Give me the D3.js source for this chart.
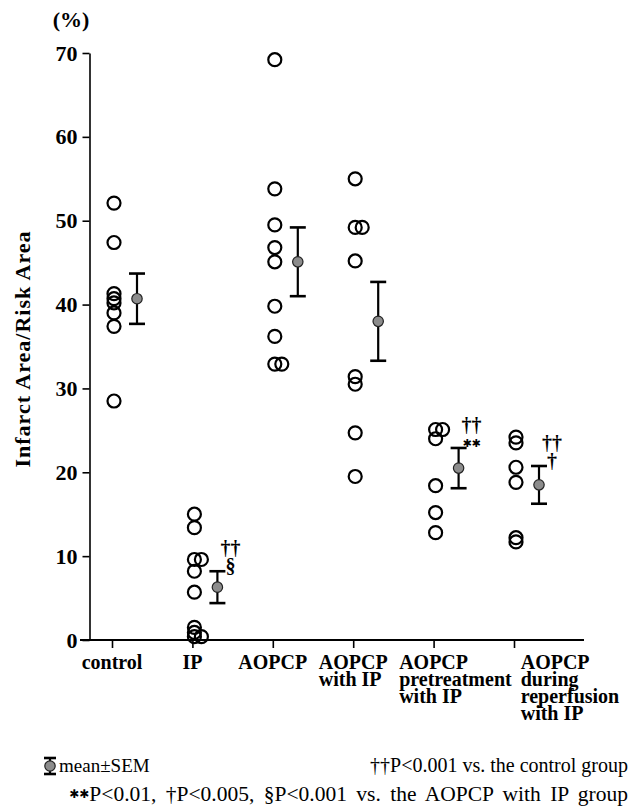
<!DOCTYPE html>
<html>
<head>
<meta charset="utf-8">
<script src="https://cdn.jsdelivr.net/npm/d3@7"></script>
<style>
  body { margin: 0; background: #fff; }
  svg { display: block; font-family: "Liberation Serif", "Times New Roman", serif; }
</style>
</head>
<body>
<div id="chart"></div>
<script>
// groups on the x axis, label lines as printed
const categories = ['control', 'IP', 'AOPCP', 'AOPCP with IP', 'AOPCP pretreatment with IP', 'AOPCP during reperfusion with IP'];
const categoryLines = [
    ['control'],
    ['IP'],
    ['AOPCP'],
    ['AOPCP', 'with IP'],
    ['AOPCP', 'pretreatment', 'with IP'],
    ['AOPCP', 'during', 'reperfusion', 'with IP']
];

// individual animals (%)
const controlPts = [52.1, 47.4, 41.3, 40.7, 40.2, 39.0, 37.4, 28.5];
const ipPts = [15.0, 13.4, 9.6, 9.6, 8.2, 5.7, 1.5, 0.9, 0.4, 0.4];
const aopcpPts = [69.2, 53.8, 49.5, 46.8, 45.1, 39.8, 36.2, 32.9, 32.9];
const aopcpIpPts = [55.0, 49.2, 49.2, 45.2, 31.4, 30.5, 24.7, 19.5];
const pretreatPts = [25.1, 25.1, 24.0, 18.4, 15.2, 12.8];
const reperfPts = [24.2, 23.5, 20.6, 18.8, 12.2, 11.7];
const groupPoints = [controlPts, ipPts, aopcpPts, aopcpIpPts, pretreatPts, reperfPts];

// mean ± SEM
const means = [40.7, 6.3, 45.1, 38.0, 20.5, 18.5];
const sems = [3.0, 1.9, 4.1, 4.7, 2.4, 2.25];

// significance marks, top line first
const marks = [[], ['††', '§'], [], [], ['††', '✱✱'], ['††', '†']];

const yTicks = [0, 10, 20, 30, 40, 50, 60, 70];

const legendLine1 = '††P<0.001 vs. the control group';
const legendLine2 = 'P<0.01, †P<0.005, §P<0.001  vs. the AOPCP with IP group';

const width = 636, height = 810;
const svg = d3.select('#chart').append('svg').attr('width', width).attr('height', height);

const x = d3.scalePoint().domain(categories).range([112, 514]);
const y = d3.scaleLinear().domain([0, 70]).range([640, 53]);

// y axis
const yAxis = svg.append('g').attr('transform', 'translate(89.5,0)')
    .call(d3.axisLeft(y).tickValues(yTicks).tickSize(7).tickSizeOuter(0).tickPadding(5));
yAxis.selectAll('path, line').attr('stroke', '#000').attr('stroke-width', 1.6);
yAxis.selectAll('text').attr('font-size', 22).attr('font-weight', 'bold')
    .attr('font-family', '"Liberation Serif", serif').attr('fill', '#000');

// x axis
const xAxis = svg.append('g').attr('transform', 'translate(0,640)')
    .call(d3.axisBottom(x).tickSize(8).tickFormat(''));
xAxis.select('.domain').remove();
xAxis.selectAll('line').attr('stroke', '#000').attr('stroke-width', 1.6);
svg.append('line')
    .attr('x1', x(categories[0]) - 32).attr('x2', x(categories[5]) + 70)
    .attr('y1', 640).attr('y2', 640)
    .attr('stroke', '#000').attr('stroke-width', 1.8);

// category labels: first line centred on the tick, later blocks pushed right when they collide
let prevRight = -Infinity;
categories.forEach((c, i) => {
    const t = svg.append('text').attr('font-size', 20).attr('font-weight', 'bold');
    const spans = categoryLines[i].map((s, j) =>
        t.append('tspan').attr('y', 669 + j * 17).text(s));
    const w0 = spans[0].node().getComputedTextLength();
    const wMax = d3.max(spans, s => s.node().getComputedTextLength());
    let left = x(c) - w0 / 2;
    if (left < prevRight + 9) left = prevRight + 9;
    spans.forEach(s => s.attr('x', left));
    prevRight = left + wMax;
});

// axis titles
svg.append('text').attr('x', 71).attr('y', 27).attr('text-anchor', 'middle')
    .attr('font-size', 22).attr('font-weight', 'bold').text('(%)');
svg.append('text')
    .attr('transform', 'translate(30,349) rotate(-90)')
    .attr('text-anchor', 'middle').attr('font-size', 22).attr('font-weight', 'bold')
    .attr('letter-spacing', 1).text('Infarct Area/Risk Area');

// individual points, repeated values nudged sideways
groupPoints.forEach((pts, i) => {
    const seen = {};
    const g = svg.append('g');
    g.selectAll('circle').data(pts).join('circle')
        .attr('cx', d => {
            const k = seen[d] || 0;
            seen[d] = k + 1;
            return x(categories[i]) + 2 + k * 7;
        })
        .attr('cy', d => y(d))
        .attr('r', 6.5)
        .attr('fill', 'none').attr('stroke', '#000').attr('stroke-width', 2.2);
});

// mean ± SEM
function errorBar(g, cx, yMid, yTop, yBot, capHalf) {
    g.append('line').attr('x1', cx).attr('x2', cx).attr('y1', yTop).attr('y2', yBot)
        .attr('stroke', '#000').attr('stroke-width', 2.2);
    [yTop, yBot].forEach(v => g.append('line')
        .attr('x1', cx - capHalf).attr('x2', cx + capHalf).attr('y1', v).attr('y2', v)
        .attr('stroke', '#000').attr('stroke-width', 2.6));
    g.append('circle').attr('cx', cx).attr('cy', yMid).attr('r', 5.2)
        .attr('fill', '#8c8c8c').attr('stroke', '#222').attr('stroke-width', 1.2);
}

const meanG = svg.append('g');
categories.forEach((c, i) => {
    const cx = x(c) + 25;
    errorBar(meanG, cx, y(means[i]), y(means[i] + sems[i]), y(means[i] - sems[i]), 8);
    const capY = y(means[i] + sems[i]);
    const n = marks[i].length;
    marks[i].forEach((m, j) => {
        const isStar = m.includes('✱');
        svg.append('text')
            .attr('x', x(c) + 38)
            .attr('y', capY - (n - 1 - j) * 18 + (isStar ? -1 : 2))
            .attr('text-anchor', 'middle')
            .attr('font-size', isStar ? 11 : 20)
            .attr('font-weight', 'bold')
            .attr('font-family', isStar ? '"DejaVu Sans", sans-serif' : '"Liberation Serif", serif')
            .text(m);
    });
});

// legend
const leg = svg.append('g');
errorBar(leg, 50, 766, 758, 774, 6);
leg.append('text').attr('x', 59).attr('y', 772).attr('font-size', 19).text('mean±SEM');
leg.append('text').attr('x', 628).attr('y', 772).attr('text-anchor', 'end')
    .attr('font-size', 20).text(legendLine1);
const l2 = leg.append('text').attr('x', 628).attr('y', 801).attr('text-anchor', 'end').attr('font-size', 21.5);
l2.append('tspan').attr('font-family', '"DejaVu Sans", sans-serif').attr('font-size', 12)
    .attr('dy', -3).text('✱✱');
const l2main = l2.append('tspan').attr('dy', 3).text(legendLine2);
// the printed line runs almost the full width: open the word gaps slightly to match
const natural = l2.node().getComputedTextLength();
const gaps = legendLine2.split(' ').length - 1;
l2main.attr('word-spacing', Math.min(4, Math.max(0, (585 - natural) / gaps)));
</script>
</body>
</html>
